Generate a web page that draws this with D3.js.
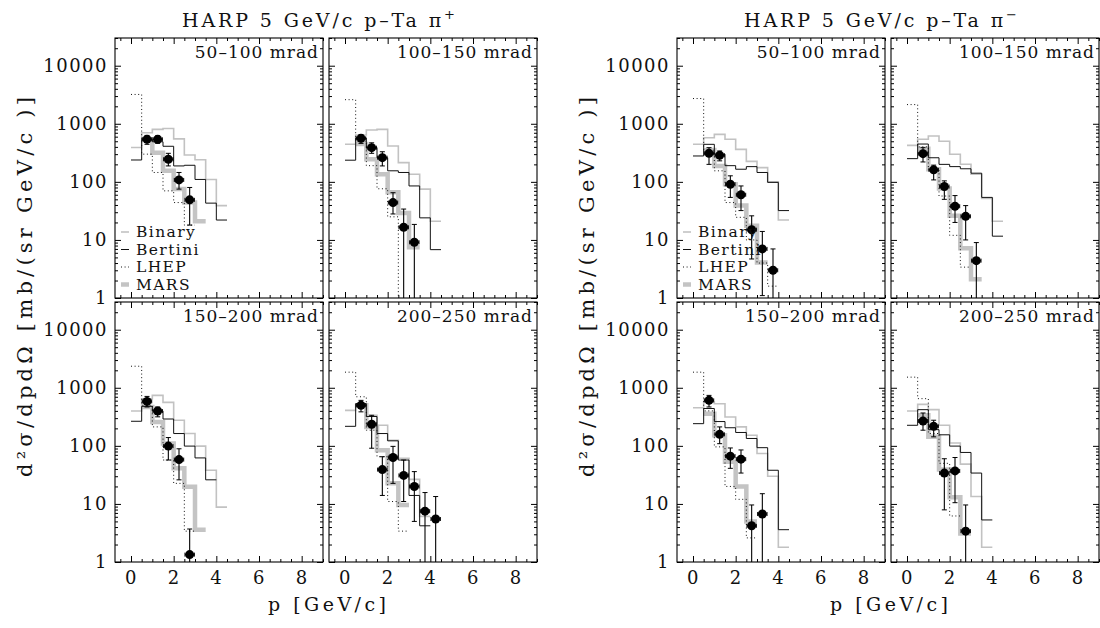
<!DOCTYPE html>
<html><head><meta charset="utf-8">
<script src="https://cdn.jsdelivr.net/npm/d3@7"></script>
<style>
body{margin:0;background:#fff}
text{font-family:"DejaVu Serif",serif;fill:#111}
</style>
</head><body>
<svg id="c" width="1100" height="628"></svg>
<script>
// ---------- DATA ----------
const angleBins = ["50–100 mrad","100–150 mrad","150–200 mrad","200–250 mrad"];
const groupTitles = ["HARP 5 GeV/c p–Ta π","HARP 5 GeV/c p–Ta π"];
const groupCharges = ["+","−"];
const modelNames = ["Binary","Bertini","LHEP","MARS"];
const modelStart = [0, 0, 0, 0.5];   // first bin lower edge (GeV/c)
const binWidth = 0.5;                // GeV/c
const xTickValues = [0,2,4,6,8];
const xTickLabels = ["0","2","4","6","8"];
const yTickValues = [1,10,100,1000,10000];
const yTickLabels = ["1","10","100","1000","10000"];
const pointP = [0.75,1.25,1.75,2.25,2.75,3.25,3.75,4.25];
const xErrHalf = 0.22;

// pi+ : panels 50-100, 100-150, 150-200, 200-250
const binaryPlus = [
  [390,700,800,830,550,290,240,110,39],
  [443,640,780,800,414,214,135,75,21],
  [398,648,739,560,276,163,99,38,8.8],
  [408,518,336,226,125,61,26.5,6.1]
];
const bertiniPlus = [
  [238,540,490,410,188,193,110,43,22],
  [236,570,390,260,155,145,85,24,6.8],
  [265,479,400,290,163,99,62,26],
  [217,532,320,163,122,57,14,4.2]
];
const lhepPlus = [
  [3200,300,145,70,44,18],
  [2600,500,190,76,25,0.3],
  [2350,500,212,57,22.6,3.4],
  [1858,700,186,65,11,3.4]
];
const marsPlus = [
  [540,318,155,75,44,21],
  [450,245,135,66,29,7.5],
  [467,258,110,41,19.8,3.6],
  [498,212,84,22.6,9.6]
];
const dataPlus = [
  [540,540,245,108,49],
  [561,388,261,44,16.5,9.1],
  [583,398,99,58,1.34],
  [498,235,39,63,31,20,7.5,5.5]
];
const errLoPlus = [
  [443,460,188,75,18],
  [460,310,188,28,0.1,0.1],
  [467,316,57,26,0.1],
  [385,91,14,22.6,11,5,0.1,0.1]
];
const errHiPlus = [
  [630,620,310,145,80],
  [650,470,330,65,34,18.5],
  [710,467,139,89,3.7],
  [607,336,65,98,57,36,15.7,13.4]
];

// pi- : panels 50-100, 100-150, 150-200, 200-250
const binaryMinus = [
  [443,575,656,540,363,225,176,100,22],
  [425,540,615,500,298,201,135,52,21],
  [454,568,530,314,212,152,74,30,1.8],
  [398,518,420,226,112,48.5,13.4,1.8]
];
const bertiniMinus = [
  [279,443,300,190,165,183,145,98,32],
  [251,448,260,200,183,168,141,54,11.6],
  [241,440,262,205,170,134,93,38,3.6],
  [226,420,190,155,99,77,34,5.3]
];
const lhepMinus = [
  [2720,350,155,44,24.5,10,4,1.6],
  [2140,400,160,57,12,3.4],
  [1858,400,96,20,12,2.6],
  [1524,650,163,50,6.2]
];
const marsMinus = [
  [354,188,91,39,17.6,4.1],
  [373,165,77,26,7.2,2.1],
  [358,152,53,20,5],
  [336,143,39,13,3.1]
];
const dataMinus = [
  [310,286,91,60,15,7,3],
  [306,161,83,38,25.5,4.4],
  [607,158,66.5,59,4.2,6.7],
  [268,217,34,37,3.4]
];
const errLoMinus = [
  [200,230,54,32,4.7,1.1,0.1],
  [220,108,50,20,10,0.1],
  [467,109,41,34,0.1,0.1],
  [186,143,7.9,10.5,0.1]
];
const errHiMinus = [
  [388,340,127,85,26,14,7],
  [388,194,104,58,39,9],
  [740,212,92,85,9.6,15],
  [368,276,60,63,9.6]
];

// ---------- LAYOUT ----------
const W = 208, H = 260;
const colX = [115, 329, 677, 891];
const rowY = [38, 302];
const xDomain = [-0.75, 9];
const yDomain = [1, 30000];
const modelStyle = [
  {stroke:"#c2c2c2", width:1.6, dash:null},
  {stroke:"#111", width:1, dash:null},
  {stroke:"#111", width:1, dash:"1,2.6"},
  {stroke:"#c4c4c4", width:4.5, dash:null}
];
const FS = 18;

const svg = d3.select("#c");
const groups = [
  {models:[binaryPlus,bertiniPlus,lhepPlus,marsPlus], data:dataPlus, lo:errLoPlus, hi:errHiPlus},
  {models:[binaryMinus,bertiniMinus,lhepMinus,marsMinus], data:dataMinus, lo:errLoMinus, hi:errHiMinus}
];

const xMinor = d3.range(-0.5, 9.001, 0.5).filter(v => Math.abs(v % 2) > 1e-9);

function stepPts(start, vals){
  const pts = vals.map((v,i)=>[start+i*binWidth, v]);
  pts.push([start+vals.length*binWidth, vals[vals.length-1]]);
  return pts;
}

let clipId = 0;
groups.forEach((grp, g) => {
  for (let k = 0; k < 4; k++) {
    const left = colX[g*2 + (k%2)];
    const top = rowY[Math.floor(k/2)];
    const x = d3.scaleLinear().domain(xDomain).range([left, left+W]);
    const y = d3.scaleLog().domain(yDomain).range([top+H, top]);
    const yMinor = y.ticks().filter(v => !yTickValues.includes(v));
    const showY = (k%2) === 0;
    const showX = Math.floor(k/2) === 1;

    const cid = "clip" + (clipId++);
    svg.append("clipPath").attr("id", cid).append("rect")
      .attr("x", left).attr("y", top).attr("width", W).attr("height", H);
    const plot = svg.append("g").attr("clip-path", `url(#${cid})`);

    // model histograms (MARS first, underneath)
    [3,0,1,2].forEach(m => {
      const st = modelStyle[m];
      const line = d3.line().x(d=>x(d[0])).y(d=>y(d[1])).curve(d3.curveStepAfter);
      plot.append("path").attr("d", line(stepPts(modelStart[m], grp.models[m][k])))
        .attr("fill","none").attr("stroke",st.stroke).attr("stroke-width",st.width)
        .attr("stroke-dasharray",st.dash);
    });

    // data points
    const vals = grp.data[k];
    vals.forEach((v,i) => {
      const px = x(pointP[i]), py = y(v);
      const ylo = y(grp.lo[k][i]), yhi = y(grp.hi[k][i]);
      plot.append("line").attr("x1",px).attr("x2",px).attr("y1",ylo).attr("y2",yhi)
        .attr("stroke","#000").attr("stroke-width",1.1);
      [ylo,yhi].forEach(yy => plot.append("line").attr("x1",px-2.5).attr("x2",px+2.5)
        .attr("y1",yy).attr("y2",yy).attr("stroke","#000").attr("stroke-width",1));
      const xl = x(pointP[i]-xErrHalf), xr = x(pointP[i]+xErrHalf);
      plot.append("line").attr("x1",xl).attr("x2",xr).attr("y1",py).attr("y2",py)
        .attr("stroke","#000").attr("stroke-width",1.1);
      [xl,xr].forEach(xx => plot.append("line").attr("x1",xx).attr("x2",xx)
        .attr("y1",py-2).attr("y2",py+2).attr("stroke","#000").attr("stroke-width",1));
      plot.append("circle").attr("cx",px).attr("cy",py).attr("r",4.5).attr("fill","#000");
    });

    // axes (inward ticks)
    const axG = svg.append("g");
    const styleAxis = sel => {
      sel.select(".domain").remove();
      sel.selectAll("line").attr("stroke","#000");
      sel.attr("font-family",null).attr("font-size",null);
      sel.selectAll("text").attr("font-size",FS).attr("letter-spacing","1.5px")
        .attr("fill","#111").style("font-family",'"DejaVu Serif",serif');
    };
    axG.append("g").attr("transform",`translate(${left},0)`)
      .call(d3.axisLeft(y).tickValues(yTickValues).tickSize(-6).tickPadding(7)
        .tickFormat((d,i)=> showY ? yTickLabels[i] : "")).call(styleAxis);
    axG.append("g").attr("transform",`translate(${left},0)`)
      .call(d3.axisLeft(y).tickValues(yMinor).tickSize(-3).tickFormat("")).call(styleAxis);
    axG.append("g").attr("transform",`translate(${left+W},0)`)
      .call(d3.axisRight(y).tickValues(yTickValues).tickSize(-6).tickFormat("")).call(styleAxis);
    axG.append("g").attr("transform",`translate(${left+W},0)`)
      .call(d3.axisRight(y).tickValues(yMinor).tickSize(-3).tickFormat("")).call(styleAxis);
    axG.append("g").attr("transform",`translate(0,${top+H})`)
      .call(d3.axisBottom(x).tickValues(xTickValues).tickSize(-6).tickPadding(9)
        .tickFormat((d,i)=> showX ? xTickLabels[i] : "")).call(styleAxis);
    axG.append("g").attr("transform",`translate(0,${top+H})`)
      .call(d3.axisBottom(x).tickValues(xMinor).tickSize(-3).tickFormat("")).call(styleAxis);
    axG.append("g").attr("transform",`translate(0,${top})`)
      .call(d3.axisTop(x).tickValues(xTickValues).tickSize(-6).tickFormat("")).call(styleAxis);
    axG.append("g").attr("transform",`translate(0,${top})`)
      .call(d3.axisTop(x).tickValues(xMinor).tickSize(-3).tickFormat("")).call(styleAxis);

    // frame
    svg.append("rect").attr("x",left).attr("y",top).attr("width",W).attr("height",H)
      .attr("fill","none").attr("stroke","#000").attr("stroke-width",1.1);

    // angle label
    svg.append("text").attr("x",left+W-4).attr("y",top+20).attr("text-anchor","end")
      .attr("font-size",17).attr("letter-spacing","1px").text(angleBins[k]);

    // legend
    if (k === 0) {
      const ly = [232, 249.5, 267, 284.5];
      modelNames.forEach((nm, m) => {
        const st = modelStyle[m];
        svg.append("line").attr("x1",left+6).attr("x2",left+14).attr("y1",ly[m]).attr("y2",ly[m])
          .attr("stroke",st.stroke).attr("stroke-width",st.width).attr("stroke-dasharray",st.dash);
        svg.append("text").attr("x",left+21).attr("y",ly[m]).attr("dy","0.35em")
          .attr("font-size",15.5).attr("letter-spacing","1.4px").text(nm);
      });
    }
  }

  // group title
  const gx0 = colX[g*2];
  const t = svg.append("text").attr("x", gx0+67).attr("y", 27).attr("font-size", 19)
    .attr("textLength", 273).attr("lengthAdjust","spacing");
  t.append("tspan").text(groupTitles[g]);
  t.append("tspan").attr("font-size", 13).attr("dy", -8).text(groupCharges[g]);

  // y label
  svg.append("text").attr("transform", `translate(${gx0-90},287) rotate(-90)`)
    .attr("text-anchor","middle").attr("dy","0.35em").attr("font-size", 21)
    .attr("textLength", 380).attr("lengthAdjust","spacing")
    .text("d²σ/dpdΩ [mb/(sr GeV/c )]");

  // x label
  svg.append("text").attr("x", gx0+212).attr("y", 611).attr("text-anchor","middle")
    .attr("font-size", 19).attr("textLength", 118).attr("lengthAdjust","spacing")
    .text("p [GeV/c]");
});
</script>
</body></html>
